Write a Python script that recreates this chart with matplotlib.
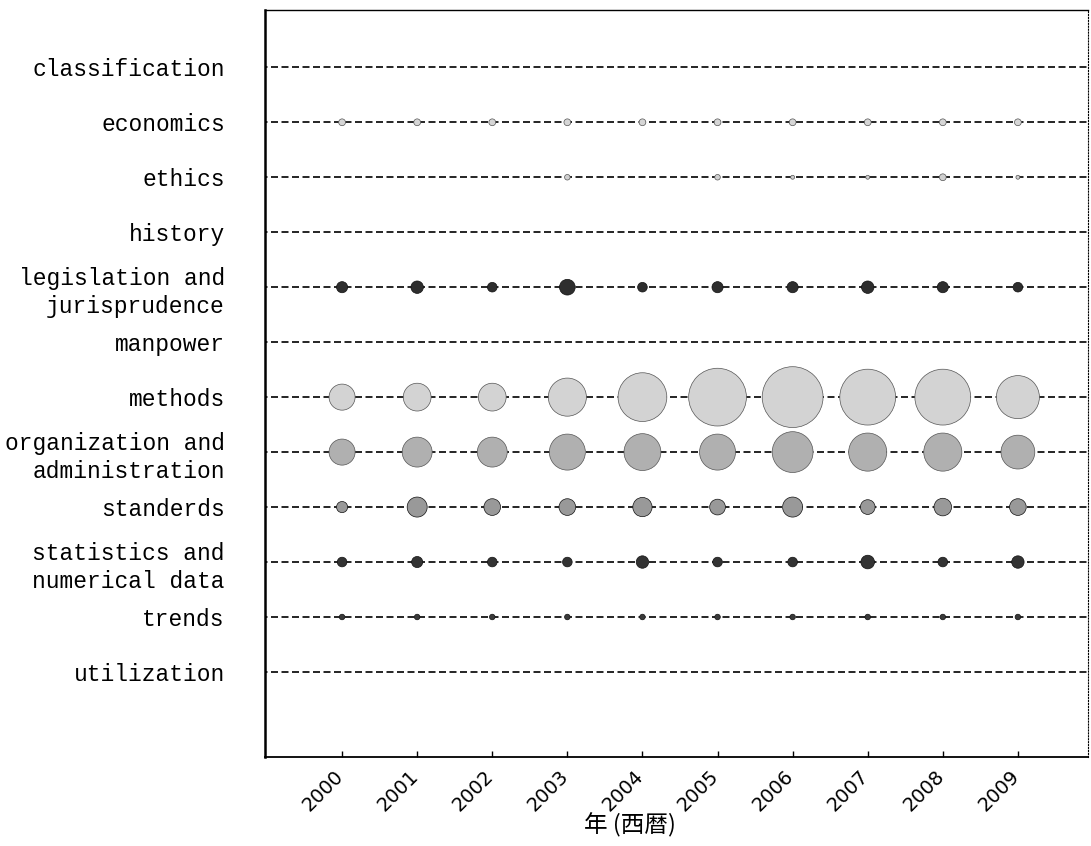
import matplotlib
matplotlib.use("Agg")

import numpy as np
import matplotlib.pyplot as plt
from matplotlib.transforms import ScaledTranslation

# ================= DATA =================
YEARS = [2000, 2001, 2002, 2003, 2004, 2005, 2006, 2007, 2008, 2009]

CATEGORIES = [
    "classification",
    "economics",
    "ethics",
    "history",
    "legislation and\njurisprudence",
    "manpower",
    "methods",
    "organization and\nadministration",
    "standerds",
    "statistics and\nnumerical data",
    "trends",
    "utilization",
]

# article counts per year
classification = [0, 0, 0, 0, 0, 0, 0, 0, 0, 0]
economics = [1.5, 1.5, 1.5, 1.5, 1.5, 1.5, 1.5, 1.5, 1.5, 1.5]
ethics = [0, 0, 0, 1, 0, 1, 0.5, 0.5, 1.5, 0.5]
history = [0, 0, 0, 0, 0, 0, 0, 0, 0, 0]
legislation = [4, 5, 3, 8, 3, 4, 4, 5, 4, 3]
manpower = [0, 0, 0, 0, 0, 0, 0, 0, 0, 0]
methods = [22, 25, 25, 47, 77, 108, 120, 101, 101, 60]
organization = [22, 29, 29, 42, 44, 42, 54, 47, 47, 37]
standerds = [4, 13, 9, 9, 12, 8, 13, 7, 10, 9]
statistics = [3, 4, 3, 3, 5, 3, 3, 6, 3, 5]
trends = [1, 1, 1, 1, 1, 1, 1, 1, 1, 1]
utilization = [0, 0, 0, 0, 0, 0, 0, 0, 0, 0]

SERIES = [classification, economics, ethics, history, legislation, manpower,
          methods, organization, standerds, statistics, trends, utilization]

# grey shades of the printed figure
COLORS = ["#cfcfcf", "#d6d6d6", "#d0d0d0", "#cfcfcf", "#2e2e2e", "#cfcfcf",
          "#d3d3d3", "#b0b0b0", "#999999", "#333333", "#3a3a3a", "#cfcfcf"]

XLABEL = "年 (西暦)"
# =========================================

SIZE_SCALE = 16.0  # marker area (pt^2) per article


def main():
    fig = plt.figure(figsize=(10.91, 8.46), dpi=100)
    ax = fig.add_axes([0.243, 0.105, 0.754, 0.883])

    for i, (vals, col) in enumerate(zip(SERIES, COLORS)):
        ax.plot([1998.5, 2010.5], [i, i], color="black", lw=1.2,
                linestyle=(0, (4.2, 2.1)), zorder=1)
        vals = np.asarray(vals, dtype=float)
        mask = vals > 0
        if mask.any():
            edge = "#555555" if col > "#a00000" else "#111111"
            ax.scatter(np.asarray(YEARS)[mask], np.full(mask.sum(), i),
                       s=vals[mask] * SIZE_SCALE, c=col, edgecolors=edge,
                       linewidths=0.5, zorder=3)

    ax.set_xlim(1998.975, 2009.93)
    ax.set_ylim(12.55, -1.04)

    ax.set_yticks(range(len(CATEGORIES)))
    ax.set_yticklabels(CATEGORIES, family="Liberation Mono", fontsize=16.5,
                       linespacing=1.3, multialignment="right")
    ax.tick_params(axis="y", length=0, pad=29)

    ax.set_xticks(YEARS)
    ax.set_xticklabels([str(y) for y in YEARS], rotation=45, ha="right",
                       fontsize=14)
    ax.tick_params(axis="x", direction="in", length=4, width=1, pad=7)
    shift = ScaledTranslation(5 / 100, 0, fig.dpi_scale_trans)
    for lbl in ax.get_xticklabels():
        lbl.set_transform(lbl.get_transform() + shift)

    ax.set_xlabel(XLABEL, family=["Noto Sans CJK JP", "DejaVu Sans"],
                  fontsize=17)
    ax.xaxis.set_label_coords(0.443, -0.075)

    ax.spines["left"].set_linewidth(1.8)
    ax.spines["bottom"].set_linewidth(1.3)
    ax.spines["top"].set_linewidth(1.0)
    ax.spines["right"].set_linewidth(0.8)
    ax.spines["right"].set_linestyle(":")

    fig.savefig("out.png", dpi=100)
    plt.close(fig)


if __name__ == "__main__":
    main()
